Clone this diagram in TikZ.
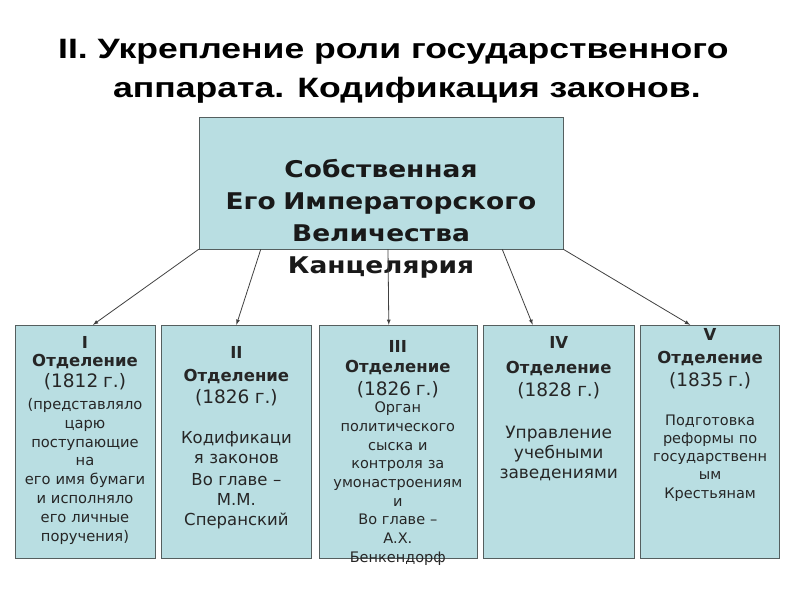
\documentclass[tikz,border=0pt]{standalone}
\usepackage{fontspec}
\setmainfont{DejaVu Sans}
\newfontfamily\titlefont[FakeStretch=1.27]{Liberation Sans}
\newfontfamily\chancfont[FakeStretch=1.15]{DejaVu Sans}
\usepackage{tikz}
\usetikzlibrary{shapes,arrows,positioning}

\definecolor{boxfill}{RGB}{185,222,226}
\definecolor{boxline}{RGB}{85,95,95}
\newcommand{\dephead}[1]{{\fontsize{16.5}{18}\selectfont\bfseries #1}}
\newcommand{\depyear}[1]{{\fontsize{18.5}{18}\selectfont #1}}

\begin{document}
\begin{tikzpicture}[x=1pt, y=-1pt, node distance=6pt, auto]
    \tikzstyle{chanc} = [rectangle, draw=boxline, fill=boxfill, text width=364pt, align=center, inner sep=0pt, text=black!90, font=\chancfont\fontsize{23}{32}\selectfont\bfseries]
    \tikzstyle{dept} = [rectangle, draw=boxline, fill=boxfill, align=center, inner sep=0pt, text=black!85]
    \tikzstyle{ttl} = [anchor=base west, inner sep=0pt, font=\titlefont\fontsize{28}{34}\selectfont\bfseries]
    \tikzstyle{link} = [draw=black!75, line width=0.8pt, -latex]

    \useasboundingbox (0,0) rectangle (800,600);

    \node [ttl] (title) at (58,58.3) {II. Укрепление роли государственного};
    \node [ttl] (subtitle) at (113,97) {аппарата. Кодификация законов.};

    \node [chanc, text height=60pt, text depth=72pt] (chancery) at (381,183) {Собственная\\ Его Императорского\\ Величества\\ Канцелярия};

    \node [dept, text width=140pt, text height=23pt, text depth=210pt, font=\fontsize{14.7}{18.8}\selectfont] (secI) at (85,441.5)
        {\dephead{I}\\ \dephead{Отделение}\\[2pt] \depyear{(1812 г.)}\\[3pt] (представляло\\ царю\\ поступающие\\ на\\ его имя бумаги\\ и исполняло\\ его личные\\ поручения)};
    \node [dept, text width=150pt, text height=33pt, text depth=200pt, font=\fontsize{16.5}{20}\selectfont, right=of secI] (secII)
        {\dephead{II}\\[3pt] \dephead{Отделение}\\[2pt] \depyear{(1826 г.)}\\[20pt] Кодификаци\\ я законов\\[2pt] Во главе –\\ М.М.\\ Сперанский};
    \node [dept, text width=158pt, text height=27pt, text depth=206pt, font=\fontsize{14.5}{18.7}\selectfont, right=7pt of secII] (secIII)
        {\dephead{III}\\[2pt] \dephead{Отделение}\\[4pt] \depyear{(1826 г.)}\\[-1.5pt] Орган\\ политического\\ сыска и\\ контроля за\\ умонастроениям\\ и\\ Во главе –\\ А.Х.\\ Бенкендорф};
    \node [dept, text width=151pt, text height=23pt, text depth=210pt, font=\fontsize{17}{20}\selectfont, right=of secIII] (secIV)
        {\dephead{IV}\\[5pt] \dephead{Отделение}\\[3pt] \depyear{(1828 г.)}\\[22pt] Управление\\ учебными\\ заведениями};
    \node [dept, text width=139pt, text height=15pt, text depth=218pt, font=\fontsize{14.5}{18.3}\selectfont, right=of secIV] (secV)
        {\dephead{V}\\[4.7pt] \dephead{Отделение}\\[4.7pt] \depyear{(1835 г.)}\\[20.7pt] Подготовка\\ реформы по\\ государственн\\ ым\\ Крестьянам};

    \path [link] (chancery.south west) -- ([xshift=8pt]secI.north);
    \path [link] ([xshift=62pt]chancery.south west) -- (secII.north);
    \path [link] ([xshift=7pt]chancery.south) -- ([xshift=-9pt]secIII.north);
    \path [link] ([xshift=-61pt]chancery.south east) -- ([xshift=-26pt]secIV.north);
    \path [link] (chancery.south east) -- ([xshift=-20pt]secV.north);
\end{tikzpicture}
\end{document}
